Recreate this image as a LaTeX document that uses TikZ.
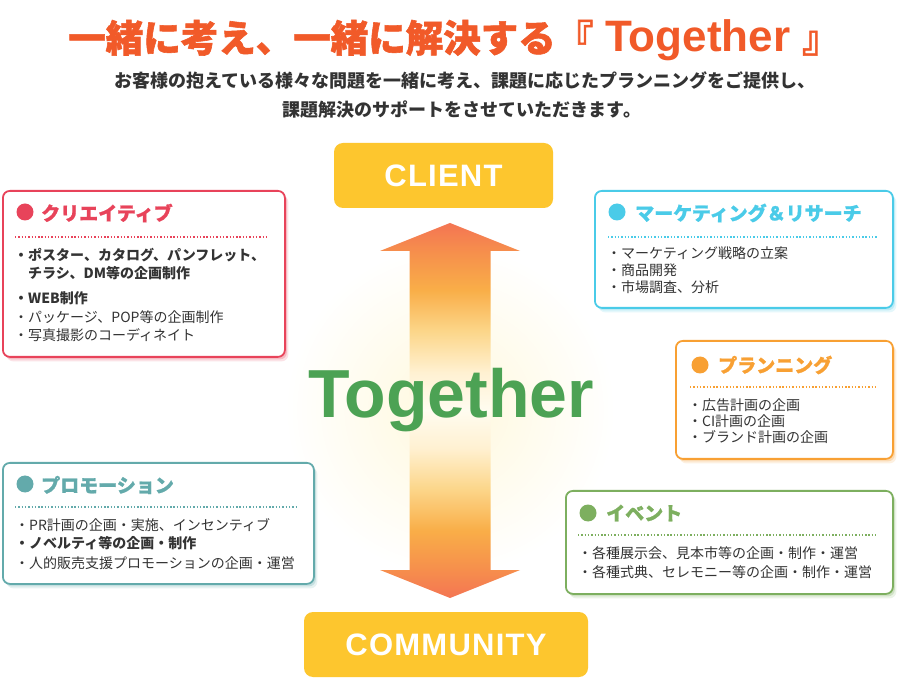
\documentclass[tikz,border=0pt]{standalone}
\usepackage{fontspec}
\usetikzlibrary{shadows}

\newfontfamily\jp{Noto Sans CJK JP}
\newfontfamily\lat{Liberation Sans}

\definecolor{titleorange}{HTML}{F15A29}
\definecolor{txtgray}{HTML}{333333}
\definecolor{boxyellow}{HTML}{FDC62E}
\definecolor{togreen}{HTML}{4CA254}
\definecolor{crRed}{HTML}{E8435A}
\definecolor{mkCyan}{HTML}{4ACBE8}
\definecolor{plOrange}{HTML}{F8A033}
\definecolor{prTeal}{HTML}{63AAAB}
\definecolor{evGreen}{HTML}{7DAF5F}
\definecolor{glowyellow}{HTML}{FFF8DC}
\definecolor{fadepale}{HTML}{FFFCF0}
\definecolor{fadecream}{HTML}{FFF1D2}
\definecolor{fadeyellow}{HTML}{FCD68A}
\definecolor{fadeorange}{HTML}{F9AE48}
\definecolor{fadedeep}{HTML}{F6904C}
\definecolor{fadetip}{HTML}{F47553}

\pgfdeclareverticalshading{arrowfade}{100bp}{color(0bp)=(fadepale); color(25bp)=(fadepale); color(35bp)=(fadecream); color(46bp)=(fadeyellow); color(57bp)=(fadeorange); color(67bp)=(fadedeep); color(75bp)=(fadetip); color(100bp)=(fadetip)}

\tikzset{
  catbox/.style={draw=#1, line width=1.8pt, fill=white, rounded corners=7pt, anchor=north west, inner sep=0pt,
    drop shadow={shadow xshift=3.5pt, shadow yshift=-4.5pt, fill=#1, opacity=0.15},
    drop shadow={shadow xshift=2pt, shadow yshift=-2.5pt, fill=#1, opacity=0.25}},
  catdot/.style={circle, inner sep=0pt, minimum size=17pt},
  cattitle/.style={anchor=west, inner sep=0pt, font=\jp\bfseries\addfontfeature{FakeBold=1}\fontsize{19}{20}\selectfont},
  dotrule/.style={draw=#1, line width=1.4pt, dash pattern=on 1.4pt off 1.9pt},
  item/.style={anchor=west, inner sep=0pt, text=txtgray, font=\jp\fontsize{14}{15}\selectfont},
  itemb/.style={item, font=\jp\bfseries\fontsize{14}{15}\selectfont},
  endbox/.style={fill=boxyellow, rounded corners=9pt, inner sep=0pt, text=white,
    font=\lat\bfseries\addfontfeature{LetterSpace=4}\fontsize{31}{31}\selectfont}
}

\begin{document}
\begin{tikzpicture}[x=1pt,y=-1pt]
  \fill[white] (0,0) rectangle (900,700);
  \useasboundingbox (0,0) rectangle (900,700);

  % Heading
  \node[anchor=base, inner sep=0pt, text=titleorange, font=\jp\bfseries\addfontfeature{FakeBold=1.5}\fontsize{37.5}{37.5}\selectfont] (headline) at (454,52)
    {一緒に考え、一緒に解決する『\hspace{12pt}{\lat\bfseries\fontsize{44}{44}\selectfont Together}\hspace{12pt}』};
  \node[inner sep=0pt, text=txtgray, font=\jp\bfseries\fontsize{18}{18}\selectfont] (lead-a) at (465,81)
    {お客様の抱えている様々な問題を一緒に考え、課題に応じたプランニングをご提供し、};
  \node[inner sep=0pt, text=txtgray, font=\jp\bfseries\fontsize{18}{18}\selectfont] (lead-b) at (462,110)
    {課題解決のサポートをさせていただきます。};

  % Glow and arrow
  \shade[inner color=glowyellow, outer color=white] (450,410) circle (165pt);
  \shade[shading=arrowfade] (450,223) -- (520,251) -- (490.5,251) -- (490.5,410)
    -- (409.5,410) -- (409.5,251) -- (380,251) -- cycle;
  \shade[shading=arrowfade, shading angle=180] (409.5,410) -- (490.5,410) -- (490.5,570)
    -- (520,570) -- (450,598) -- (380,570) -- (409.5,570) -- cycle;

  % Ends
  \node[endbox, minimum width=219pt, minimum height=65pt] (client) at (443.5,175.5) {CLIENT};
  \node[endbox, minimum width=284pt, minimum height=65pt] (community) at (446,644.5) {COMMUNITY};
  \node[anchor=base, inner sep=0pt, text=togreen, font=\lat\bfseries\fontsize{68}{68}\selectfont] (together) at (451,418) {Together};

  % Creative
  \node[catbox=crRed, minimum width=282pt, minimum height=166pt] (creative) at (2,190) {};
  \node[catdot, fill=crRed] (creative-dot) at (25,212) {};
  \node[cattitle, text=crRed] (creative-title) at (41,213) {クリエイティブ};
  \draw[dotrule=crRed] (15,237) -- (268,237);
  \foreach \py/\px/\t in {255/14/{・ポスター、カタログ、パンフレット、}, 273/28/{チラシ、DM等の企画制作}, 298/14/{・WEB制作}}
    \node[itemb] (creative-\py) at (\px,\py) {\t};
  \foreach \py/\t in {317/{・パッケージ、POP等の企画制作}, 335/{・写真撮影のコーディネイト}}
    \node[item] (creative-\py) at (14,\py) {\t};

  % Marketing
  \node[catbox=mkCyan, minimum width=298pt, minimum height=117pt] (marketing) at (594,190) {};
  \node[catdot, fill=mkCyan] (marketing-dot) at (617,212) {};
  \node[cattitle, text=mkCyan] (marketing-title) at (635,213) {マーケティング＆リサーチ};
  \draw[dotrule=mkCyan] (608,237) -- (877,237);
  \foreach \py/\t in {253/{・マーケティング戦略の立案}, 270/{・商品開発}, 287/{・市場調査、分析}}
    \node[item] (marketing-\py) at (607,\py) {\t};

  % Planning
  \node[catbox=plOrange, minimum width=217pt, minimum height=118pt] (planning) at (675,340) {};
  \node[catdot, fill=plOrange] (planning-dot) at (700,365) {};
  \node[cattitle, text=plOrange] (planning-title) at (718,365) {プランニング};
  \draw[dotrule=plOrange] (690,387) -- (877,387);
  \foreach \py/\t in {405/{・広告計画の企画}, 421/{・CI計画の企画}, 437/{・ブランド計画の企画}}
    \node[item] (planning-\py) at (688,\py) {\t};

  % Promotion
  \node[catbox=prTeal, minimum width=311pt, minimum height=121pt] (promotion) at (2,462) {};
  \node[catdot, fill=prTeal] (promotion-dot) at (25,484) {};
  \node[cattitle, text=prTeal] (promotion-title) at (41,485) {プロモーション};
  \draw[dotrule=prTeal] (15,507) -- (297,507);
  \node[item] (promotion-a) at (15,525) {・PR計画の企画・実施、インセンティブ};
  \node[itemb] (promotion-b) at (15,543) {・ノベルティ等の企画・制作};
  \node[item] (promotion-c) at (15,563) {・人的販売支援プロモーションの企画・運営};

  % Event
  \node[catbox=evGreen, minimum width=327pt, minimum height=103pt] (event) at (565,490) {};
  \node[catdot, fill=evGreen] (event-dot) at (588,513) {};
  \node[cattitle, text=evGreen] (event-title) at (606,513) {イベント};
  \draw[dotrule=evGreen] (578,535) -- (877,535);
  \foreach \py/\t in {553/{・各種展示会、見本市等の企画・制作・運営}, 572/{・各種式典、セレモニー等の企画・制作・運営}}
    \node[item] (event-\py) at (578,\py) {\t};
\end{tikzpicture}
\end{document}
